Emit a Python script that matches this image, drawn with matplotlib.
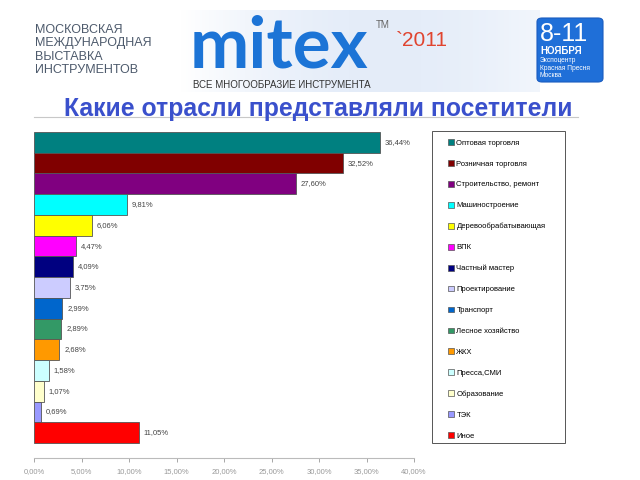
import numpy as np
import matplotlib.pyplot as plt
from matplotlib.patches import Patch, FancyBboxPatch, Rectangle

plt.rcParams['font.family'] = ['Liberation Sans', 'DejaVu Sans']

categories = ['Оптовая торговля', 'Розничная торговля', 'Строительство, ремонт',
              'Машиностроение', 'Деревообрабатывающая', 'ВПК', 'Частный мастер',
              'Проектирование', 'Транспорт', 'Лесное хозяйство', 'ЖКХ',
              'Пресса,СМИ', 'Образование', 'ТЭК', 'Иное']
values = [36.44, 32.52, 27.60, 9.81, 6.06, 4.47, 4.09, 3.75, 2.99, 2.89, 2.68,
          1.58, 1.07, 0.69, 11.05]
colors = ['#008080', '#800000', '#800080', '#00FFFF', '#FFFF00', '#FF00FF',
          '#000080', '#CCCCFF', '#0066CC', '#339966', '#FF9900', '#CCFFFF',
          '#FFFFCC', '#9999FF', '#FF0000']
ticks = [0, 5, 10, 15, 20, 25, 30, 35, 40]
tick_labels = ['0,00%', '5,00%', '10,00%', '15,00%', '20,00%', '25,00%',
               '30,00%', '35,00%', '40,00%']

W, H = 640, 480
fig = plt.figure(figsize=(6.4, 4.8), dpi=100)


def fx(px):
    return px / W


def fy(py):
    return 1 - py / H


# header background haze
bg = fig.add_axes([fx(180), fy(92), fx(360), 82 / H])
grad = np.linspace(0, 1, 200)
img = np.ones((10, 200, 3))
shade = 0.06 * np.sin(np.pi * grad) + 0.04 * grad
img[:, :, 0] -= shade * 1.3
img[:, :, 1] -= shade * 0.9
img[:, :, 2] -= shade * 0.3
bg.imshow(img, aspect='auto', extent=[0, 1, 0, 1])
bg.axis('off')

fig.text(fx(35), fy(24), 'МОСКОВСКАЯ\nМЕЖДУНАРОДНАЯ\nВЫСТАВКА\nИНСТРУМЕНТОВ',
         fontsize=9, color='#4d5a6c', va='top', ha='left', linespacing=1.15)

fig.text(fx(190), fy(68), 'mitex', fontsize=51, fontweight='bold', color='#1c74d6',
         family=['Lato', 'DejaVu Sans'], ha='left', va='baseline')
fig.text(fx(376), fy(28), 'TM', fontsize=7, color='#666666', ha='left', va='baseline')
fig.text(fx(396), fy(46), '`2011', fontsize=15, color='#e0442f', ha='left', va='baseline')
fig.text(fx(193), fy(88), 'ВСЕ МНОГООБРАЗИЕ ИНСТРУМЕНТА', fontsize=7,
         color='#333333', ha='left', va='baseline')

box = FancyBboxPatch((fx(537), fy(82)), fx(66), 64 / H,
                     boxstyle='round,pad=0,rounding_size=0.008',
                     transform=fig.transFigure, facecolor='#1f6fd8',
                     edgecolor='#1a5cc0', lw=0.8)
fig.patches.append(box)
fig.text(fx(540), fy(41), '8-11', fontsize=18, color='white', ha='left', va='baseline')
fig.text(fx(540), fy(54), 'НОЯБРЯ', fontsize=7, fontweight='bold', color='white',
         ha='left', va='baseline')
fig.text(fx(540), fy(57), 'Экспоцентр\nКрасная Пресня\nМосква', fontsize=4.8,
         color='white', ha='left', va='top', linespacing=1.1)

fig.text(fx(64), fy(116), 'Какие отрасли представляли посетители', fontsize=17.8,
         fontweight='bold', color='#3a50cc', ha='left', va='baseline')
fig.add_artist(plt.Line2D([fx(34), fx(578)], [fy(117), fy(117)],
                          transform=fig.transFigure, color='#c8c8c8', lw=0.8))

# bar chart
ax = fig.add_axes([fx(34), fy(458), fx(380), (458 - 132) / H])
y = np.arange(len(values))
ax.barh(y, values, height=1.0, color=colors, edgecolor='#555555', linewidth=0.6)
for yi, v in zip(y, values):
    ax.text(v + 0.5, yi, f'{v:.2f}%'.replace('.', ','), fontsize=5.5,
            color='#444444', va='center', ha='left')
ax.set_xlim(0, 40)
ax.set_ylim(len(values) - 0.5 + 0.72, -0.5)
ax.set_xticks(ticks)
ax.set_xticklabels(tick_labels, fontsize=5.5, color='#999999')
ax.set_yticks([])
for s in ['top', 'right', 'left']:
    ax.spines[s].set_visible(False)
ax.spines['bottom'].set_color('#bbbbbb')
ax.tick_params(axis='x', color='#999999', length=3, width=0.6, pad=4)

# legend with separate frame
fig.patches.append(Rectangle((fx(432), fy(443)), fx(133), 312 / H,
                             transform=fig.transFigure, facecolor='white',
                             edgecolor='#555555', lw=0.7))
handles = [Patch(facecolor=c, edgecolor='#555555', linewidth=0.5) for c in colors]
leg = fig.legend(handles, categories, loc='upper left',
                 bbox_to_anchor=(fx(448), fy(139)), fontsize=5.5,
                 labelspacing=1.75, handlelength=0.8, handleheight=0.8,
                 handletextpad=0.3, borderpad=0, frameon=False, borderaxespad=0)

fig.savefig('out.png', dpi=100)
